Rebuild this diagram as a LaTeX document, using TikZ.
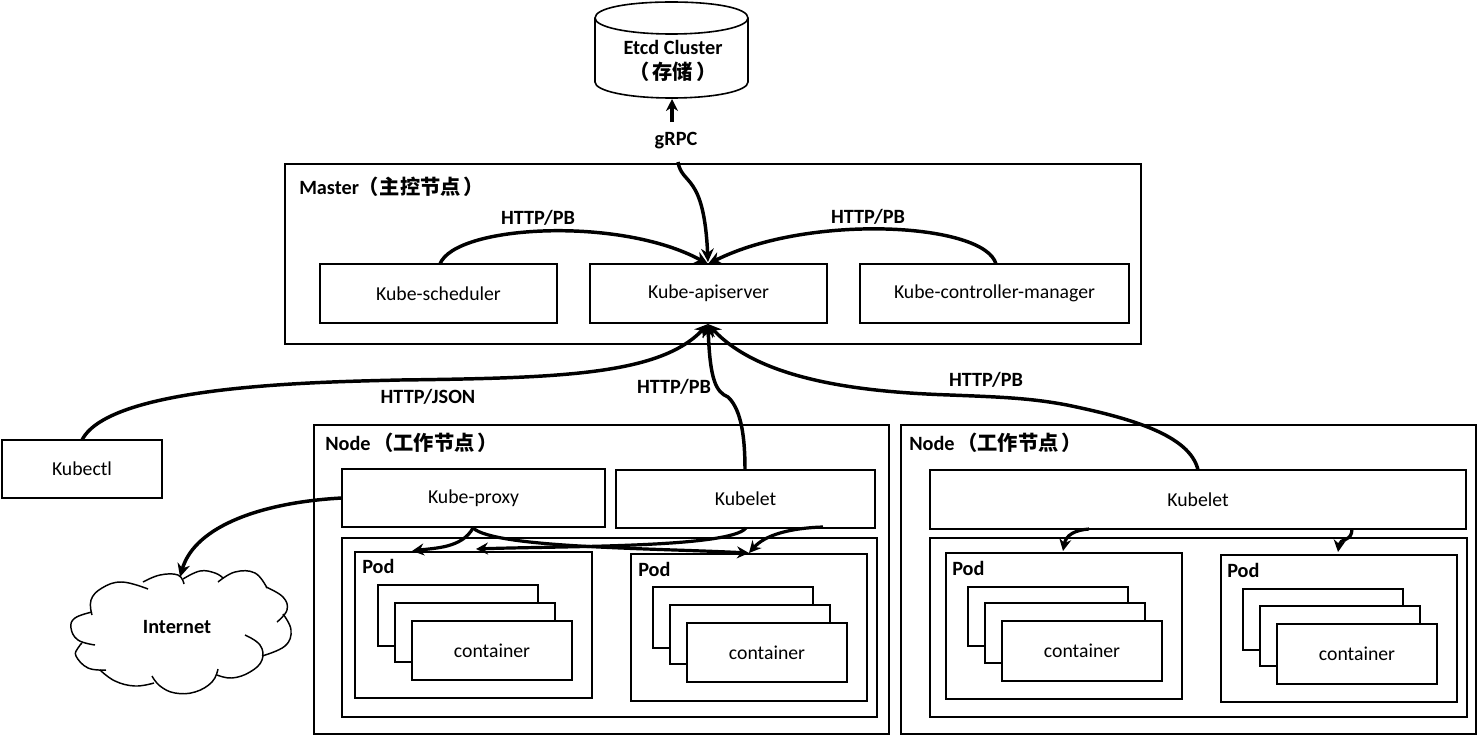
\documentclass[tikz,border=0pt]{standalone}
\usepackage{fontspec}
\setmainfont{Carlito}
\newfontfamily\cjk{Noto Sans CJK SC}
\usetikzlibrary{arrows.meta}
\newcommand{\zh}[1]{{\cjk\bfseries #1}}
\tikzset{
  x=0.75pt,y=-0.75pt,
  bx/.style={draw,line width=1.2pt,fill=white,font=\fontsize{14.8}{17}\selectfont,inner sep=0pt,outer sep=0pt},
  lbl/.style={font=\fontsize{15.2}{18}\selectfont\bfseries,inner sep=0pt},
  ttl/.style={font=\fontsize{15.2}{18}\selectfont\bfseries,inner sep=0pt,anchor=west},
  cloudl/.style={line width=1.1pt},
  conn/.style={line width=2.6pt,-{Stealth[length=10pt,width=9.5pt]}},
  conns/.style={line width=2.4pt,-{Stealth[length=9pt,width=9pt]}},
}
% #1 name, #2 x0, #3 y0, #4 x1, #5 y1, #6 text
\newcommand{\boxn}[6]{\node[bx,minimum width={(#4-#2)*0.75pt},minimum height={(#5-#3)*0.75pt},anchor=north west] (#1) at (#2,#3) {#6};}
\begin{document}
\begin{tikzpicture}
\useasboundingbox (0,0) rectangle (1478,736);
\fill[white] (0,0) rectangle (1478,736);
% etcd
\draw[line width=1.2pt,fill=white] (595,18) .. controls (595,27) and (628,34) .. (671.5,34) .. controls (715,34) and (748,27) .. (748,18) .. controls (748,8) and (715,2) .. (671.5,2) .. controls (628,2) and (595,8) .. (595,18) -- (595,82) .. controls (595,91) and (628,98) .. (671.5,98) .. controls (715,98) and (748,91) .. (748,82) -- (748,18);
\node[lbl,align=center] (etcd) at (673,61) {Etcd Cluster\\[1pt]\zh{（\kern2.5pt存储\kern2.5pt）}};
\coordinate (etcdb) at (672,99);
% master
\boxn{master}{285}{164}{1141}{344}{}
\node[ttl] (mastert) at (299,187) {Master\kern-0.5pt\zh{（\kern1pt主控节点\kern2pt）}};
\boxn{sched}{320}{264}{557}{323}{Kube-scheduler}
\boxn{api}{590}{264}{827}{323}{Kube-apiserver}
\boxn{cm}{860}{264}{1129}{323}{Kube-controller-manager}
\boxn{kubectl}{2}{440}{162}{498}{Kubectl}
% node 1
\boxn{nodea}{314}{425}{889}{734}{}
\node[ttl] (nodeat) at (325,443) {Node\kern2pt\zh{（工作节点\kern2pt）}};
\boxn{proxy}{342}{469}{605}{527}{Kube-proxy}
\boxn{letA}{616}{470}{875}{528}{Kubelet}
\boxn{innera}{342}{538}{877}{717}{}
\boxn{poda}{355}{552}{592}{698}{}
\node[ttl] (podat) at (362,566) {Pod};
\boxn{ca1}{378}{585}{538}{646}{}
\boxn{ca2}{395}{603}{555}{662}{}
\boxn{ca3}{412}{621}{572}{680}{container}
\boxn{podb}{631}{554}{867}{701}{}
\node[ttl] (podbt) at (638,569) {Pod};
\boxn{cb1}{653}{587}{813}{648}{}
\boxn{cb2}{670}{605}{830}{664}{}
\boxn{cb3}{687}{623}{847}{682}{container}
% node 2
\boxn{nodeb}{901}{425}{1476}{734}{}
\node[ttl] (nodebt) at (909,443) {Node\kern2pt\zh{（工作节点\kern2pt）}};
\boxn{letB}{930}{470}{1466}{529}{Kubelet}
\boxn{innerb}{930}{538}{1467}{717}{}
\boxn{podc}{946}{553}{1182}{699}{}
\node[ttl] (podct) at (952,568) {Pod};
\boxn{cc1}{968}{587}{1128}{646}{}
\boxn{cc2}{985}{603}{1145}{663}{}
\boxn{cc3}{1002}{621}{1162}{681}{container}
\boxn{podd}{1221}{555}{1457}{702}{}
\node[ttl] (poddt) at (1227,570) {Pod};
\boxn{cd1}{1243}{589}{1403}{650}{}
\boxn{cd2}{1260}{606}{1420}{666}{}
\boxn{cd3}{1277}{624}{1437}{684}{container}
% cloud
\draw[cloudl] plot[smooth,tension=0.7] coordinates {(92,615) (91,600) (102,588) (122,582) (148,589)};
\draw[cloudl] plot[smooth,tension=0.7] coordinates {(143,582) (160,575) (178,575) (184,584)};
\draw[cloudl] plot[smooth,tension=0.7] coordinates {(183,579) (200,571) (215,573) (223,578)};
\draw[cloudl] plot[smooth,tension=0.7] coordinates {(218,582) (235,572) (255,573) (267,588)};
\draw[cloudl] plot[smooth,tension=0.7] coordinates {(266,587) (283,597) (287,610) (277,622)};
\draw[cloudl] plot[smooth,tension=0.7] coordinates {(283,614) (291,630) (285,646) (262,656)};
\draw[cloudl] plot[smooth,tension=0.7] coordinates {(245,635) (260,645) (262,660) (250,672) (232,678) (217,675)};
\draw[cloudl] plot[smooth,tension=0.7] coordinates {(218,669) (212,682) (195,692) (175,693) (160,686) (152,676)};
\draw[cloudl] plot[smooth,tension=0.7] coordinates {(154,683) (135,686) (115,681) (100,670)};
\draw[cloudl] plot[smooth,tension=0.7] coordinates {(106,670) (88,668) (76,656) (78,648) (82,643)};
\draw[cloudl] plot[smooth,tension=0.7] coordinates {(95,645) (78,640) (71,628) (75,618) (92,612)};
\node[lbl] (internet) at (177,627) {Internet};
\coordinate (cloudtop) at (180,577);
% labels
\node[lbl] (grpc) at (676,141) {gRPC};
\node[lbl] (l1) at (538,218) {HTTP/PB};
\node[lbl] (l2) at (868,217) {HTTP/PB};
\node[lbl] (l3) at (428,397) {HTTP/JSON};
\node[lbl] (l4) at (674,387) {HTTP/PB};
\node[lbl] (l5) at (986,380) {HTTP/PB};
% connectors
\coordinate (grpcup) at (672,122);
\coordinate (grpcdown) at (678,162);
\coordinate (apin) at (708,264);
\coordinate (apis) at (708,324);
\coordinate (schedn) at (440,264);
\coordinate (cmn) at (996,264);
\coordinate (ctln) at (82,440);
\coordinate (letAn) at (745,470);
\coordinate (letBn) at (1198,470);
\coordinate (proxyw) at (342,498);
\coordinate (proxys) at (473,528);
\coordinate (letAs) at (746,528);
\coordinate (letAr) at (823,527);
\coordinate (podal) at (412,551);
\coordinate (podam) at (476,549);
\coordinate (podbn) at (749,553);
\coordinate (letBl) at (1089,529);
\coordinate (letBr) at (1352,529);
\coordinate (podcn) at (1063,551);
\coordinate (poddn) at (1338,552);
\draw[conns] (grpcup) -- (etcdb);
\draw[conn] (grpcdown) .. controls (682,186) and (704,172) .. (708,262);
\draw[conn] (schedn) .. controls (455,225) and (620,216) .. (apin);
\draw[conn] (cmn) .. controls (985,223) and (810,213) .. (apin);
\draw[conn] (ctln) .. controls (110,385) and (320,382) .. (400,380) .. controls (560,378) and (660,375) .. (apis);
\draw[conn] (letAn) .. controls (745,440) and (742,410) .. (728,397) .. controls (716,392) and (710,380) .. (apis);
\draw[conn] (letBn) .. controls (1190,435) and (1130,418) .. (1067,405) .. controls (1030,398) and (1000,397) .. (950,395) .. controls (860,392) and (760,380) .. (apis);
\draw[conn] (proxyw) .. controls (265,502) and (195,525) .. (cloudtop);
\draw[conns] (proxys) .. controls (462,548) and (435,548) .. (podal);
\draw[conns] (proxys) .. controls (495,548) and (650,548) .. (podbn);
\draw[conns] (letAs) .. controls (730,548) and (560,546) .. (podam);
\draw[conns] (letAr) .. controls (790,528) and (765,535) .. (podbn);
\draw[conns] (letBl) .. controls (1075,530) and (1066,535) .. (podcn);
\draw[conns] (letBr) .. controls (1352,542) and (1340,538) .. (poddn);
\end{tikzpicture}
\end{document}
